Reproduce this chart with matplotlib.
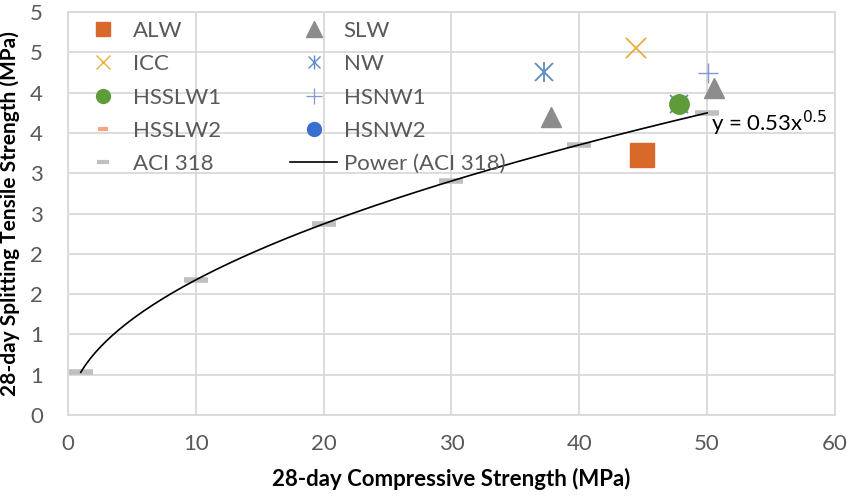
import numpy as np
import matplotlib
matplotlib.use("Agg")
import matplotlib.pyplot as plt
from matplotlib.lines import Line2D
from matplotlib.legend_handler import HandlerTuple

plt.rcParams["font.family"] = ["Lato", "DejaVu Sans"]

# ----------------------------
# Data
# ----------------------------
alw_x, alw_y = [44.9], [3.22]
slw_x, slw_y = [37.8, 50.5], [3.70, 4.06]
icc_x, icc_y = [44.4], [4.55]
nw_x, nw_y = [37.2, 47.8], [4.25, 3.86]
hsslw1_x, hsslw1_y = [47.8], [3.86]
hsnw1_x, hsnw1_y = [50.1], [4.24]
hsslw2_x, hsslw2_y = [], []
hsnw2_x, hsnw2_y = [], []
aci_x = [1, 10, 20, 30, 40, 50]
aci_y = [0.53, 1.68, 2.37, 2.90, 3.35, 3.75]

y_ticks = [0, 0.5, 1, 1.5, 2, 2.5, 3, 3.5, 4, 4.5, 5]
y_tick_labels = ["0", "1", "1", "2", "2", "3", "3", "4", "4", "5", "5"]
x_ticks = [0, 10, 20, 30, 40, 50, 60]

# colours
c_alw, c_slw, c_icc, c_nw = "#d9692a", "#8c8c8c", "#e8b03a", "#5b8cc8"
c_hsslw1, c_hsnw1, c_hsslw2, c_hsnw2 = "#5e9c3a", "#7f97d8", "#f4a582", "#3a6fd0"
c_aci = "#bfbfbf"

# ----------------------------
# Figure
# ----------------------------
fig = plt.figure(figsize=(8.47, 4.96), dpi=100)
ax = fig.add_axes([0.0803, 0.1633, 0.9055, 0.8125])

grid_c = "#d9d9d9"
ax.set_xlim(0, 60)
ax.set_ylim(0, 5)
ax.set_xticks(x_ticks)
ax.set_yticks(y_ticks)
ax.set_yticklabels(y_tick_labels)
ax.grid(True, color=grid_c, linewidth=1.3, zorder=0)
ax.set_axisbelow(True)
for s in ax.spines.values():
    s.set_color(grid_c)
    s.set_linewidth(1.3)
ax.tick_params(length=0, labelsize=16, labelcolor="#595959")
ax.tick_params(axis="x", pad=14)
ax.tick_params(axis="y", pad=18)

# series, in Excel order (NW asterisk = x + vertical bar)
ax.plot(alw_x, alw_y, "s", ms=17, color=c_alw, ls="none", zorder=3)
ax.plot(slw_x, slw_y, "^", ms=15, color=c_slw, ls="none", zorder=3)
ax.plot(icc_x, icc_y, "x", ms=14, mew=1.3, color=c_icc, ls="none", zorder=3)
ax.plot(nw_x, nw_y, "x", ms=13, mew=1.3, color=c_nw, ls="none", zorder=3)
ax.plot(nw_x, nw_y, "|", ms=15, mew=1.3, color=c_nw, ls="none", zorder=3)
ax.plot(hsslw1_x, hsslw1_y, "o", ms=14, color=c_hsslw1, ls="none", zorder=3)
ax.plot(hsnw1_x, hsnw1_y, "+", ms=15, mew=1.0, color=c_hsnw1, ls="none", zorder=3)
ax.plot(hsslw2_x, hsslw2_y, "_", ms=17, mew=4, color=c_hsslw2, ls="none", zorder=3)
ax.plot(hsnw2_x, hsnw2_y, "o", ms=14, color=c_hsnw2, ls="none", zorder=3)
ax.plot(aci_x, aci_y, "_", ms=17, mew=4, color=c_aci, ls="none", zorder=3)

# power trendline fitted to ACI 318 points
b, loga = np.polyfit(np.log(aci_x), np.log(aci_y), 1)
a = np.exp(loga)
xs = np.linspace(min(aci_x), max(aci_x), 200)
ax.plot(xs, a * xs ** b, color="black", lw=1.2, zorder=4)
ax.text(50.3, 3.62, f"y = {a:.2f}x$^{{{b:.1f}}}$", fontsize=16, color="black",
        ha="left", va="center", zorder=5)

# legend handles (smaller markers, as in the Excel legend)
def mk(**kw):
    return Line2D([], [], ls="none", **kw)

nw_leg = (mk(marker="x", ms=9, mew=1.0, color=c_nw), mk(marker="|", ms=10, mew=1.0, color=c_nw))
leg_items = [
    ("ALW", mk(marker="s", ms=10, color=c_alw)),
    ("ICC", mk(marker="x", ms=10, mew=1.0, color=c_icc)),
    ("HSSLW1", mk(marker="o", ms=10, color=c_hsslw1)),
    ("HSSLW2", mk(marker="_", ms=7, mew=3, color=c_hsslw2)),
    ("ACI 318", mk(marker="_", ms=8, mew=3, color=c_aci)),
    ("SLW", mk(marker="^", ms=11, color=c_slw)),
    ("NW", nw_leg),
    ("HSNW1", mk(marker="+", ms=11, mew=0.9, color=c_hsnw1)),
    ("HSNW2", mk(marker="o", ms=10, color=c_hsnw2)),
    ("Power (ACI 318)", Line2D([], [], color="black", lw=1.2)),
]
leg = ax.legend([hd for _, hd in leg_items], [lb for lb, _ in leg_items],
                handler_map={tuple: HandlerTuple(ndivide=1, pad=0)},
                ncol=2, loc="upper left", bbox_to_anchor=(0.004, 1.0),
                frameon=False, fontsize=16, labelcolor="#595959",
                handlelength=2.1, handletextpad=0.3, columnspacing=3.1,
                labelspacing=0.6, borderaxespad=0.0)

ax.set_xlabel("28-day Compressive Strength (MPa)", fontsize=16, fontweight="bold", labelpad=10)
ax.set_ylabel("28-day Splitting Tensile Strength (MPa)", fontsize=15, fontweight="bold")
ax.yaxis.set_label_coords(-0.062, 0.5)

fig.savefig("out.png", dpi=100)
